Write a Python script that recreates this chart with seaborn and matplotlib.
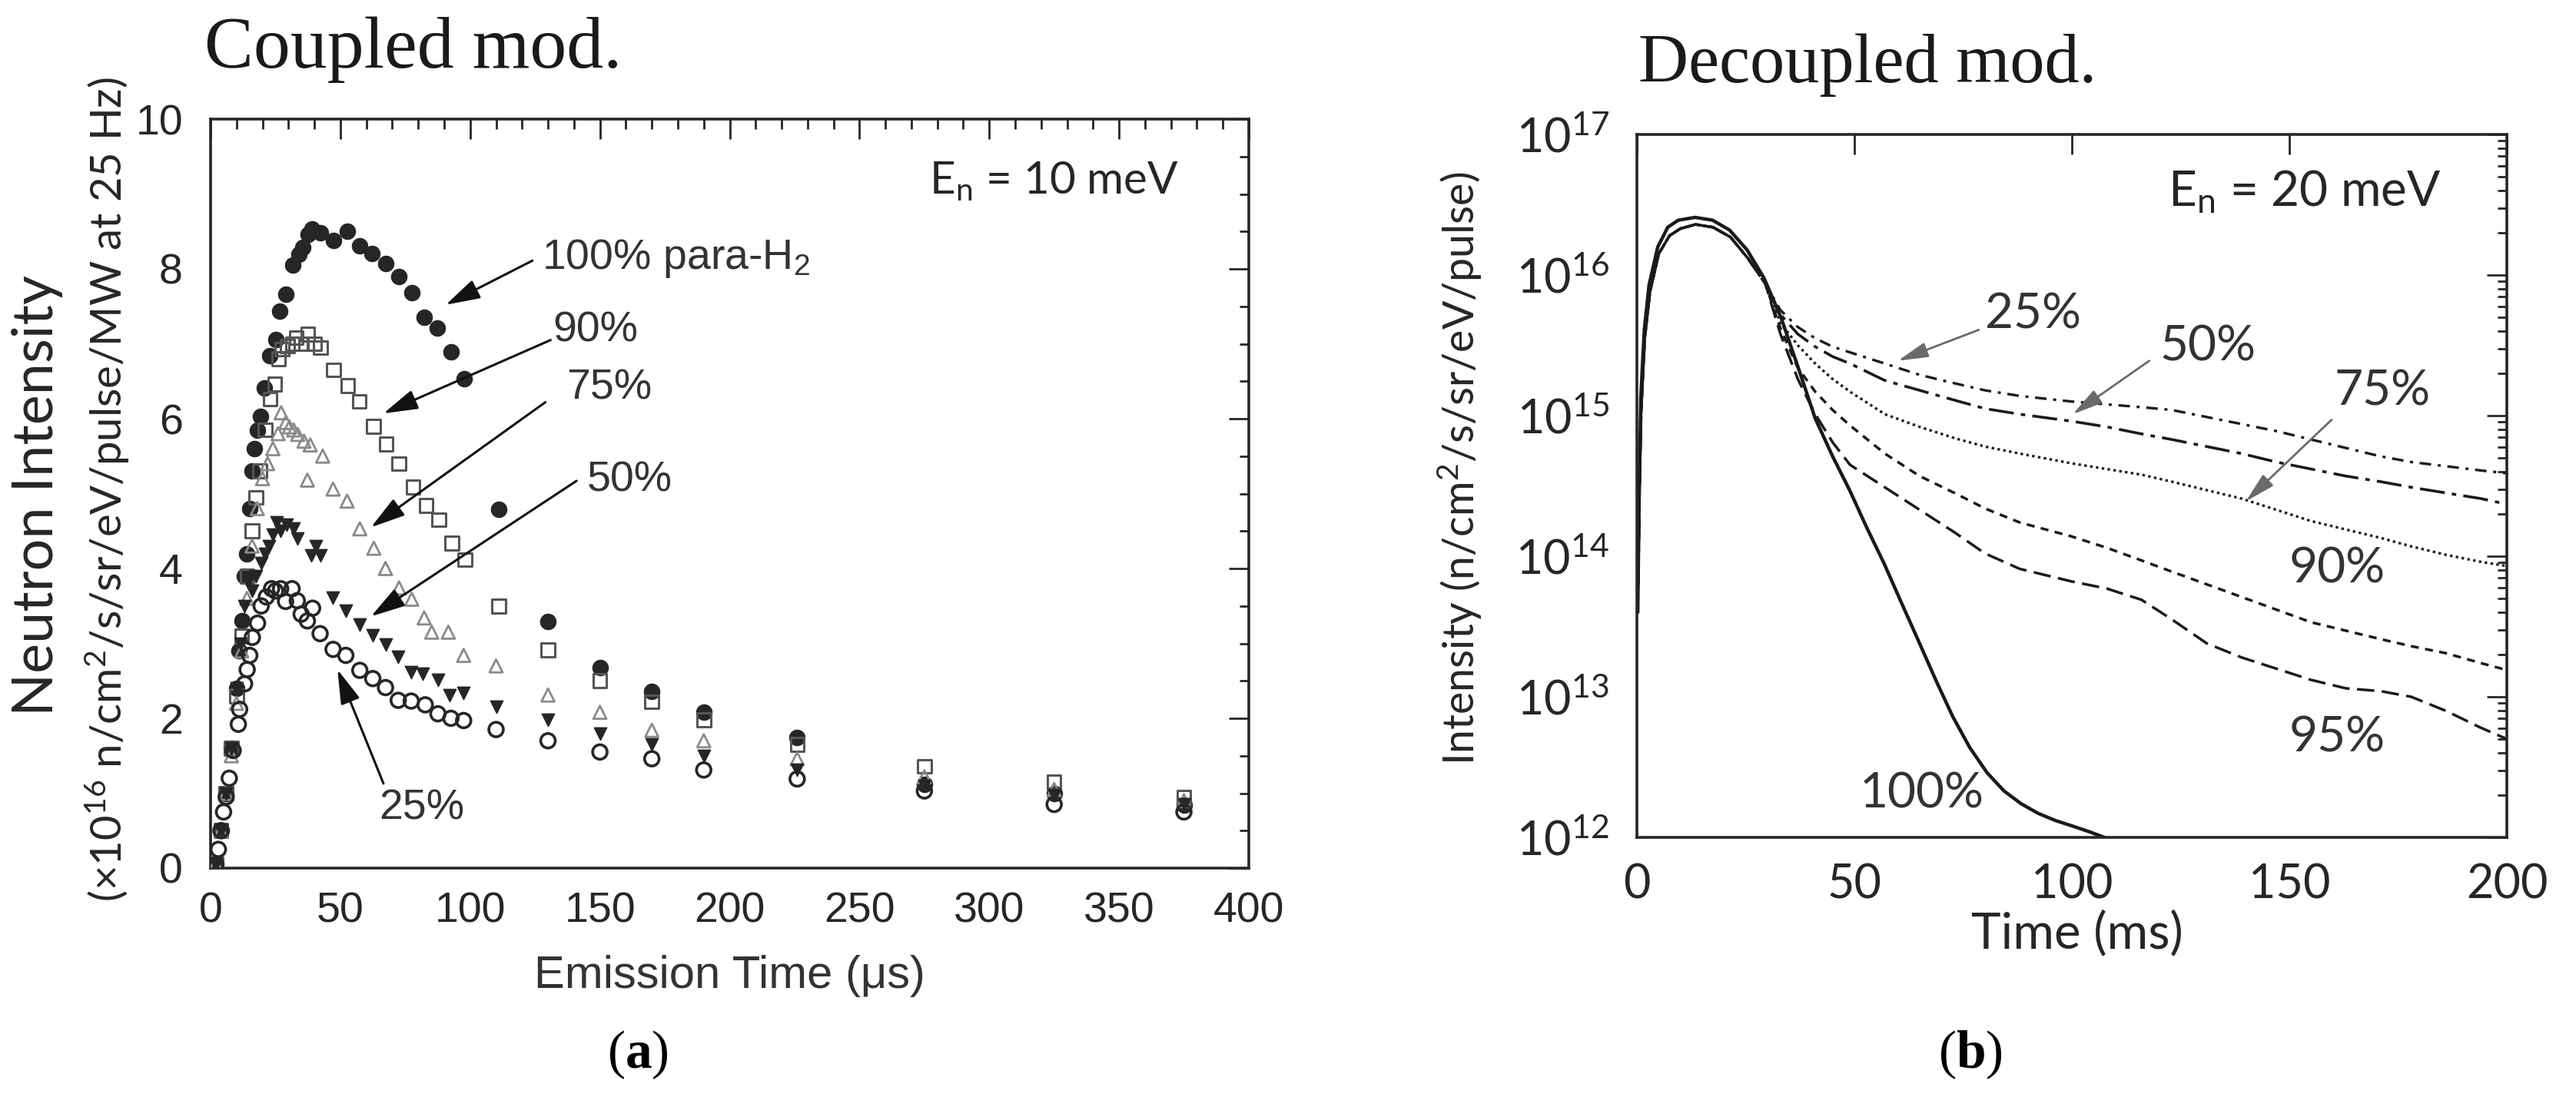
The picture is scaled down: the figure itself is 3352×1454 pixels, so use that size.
import numpy as np
import pandas as pd
import matplotlib.pyplot as plt
import seaborn as sns
from matplotlib.ticker import MultipleLocator, LogLocator, LogFormatterMathtext, NullFormatter

sns.set_style("white")
plt.rcParams["font.family"] = ["Liberation Sans", "DejaVu Sans"]
plt.rcParams["mathtext.fontset"] = "custom"
plt.rcParams["mathtext.bf"] = "Liberation Serif:bold"
plt.rcParams["mathtext.default"] = "regular"

# ---------------- (a) coupled moderator, En = 10 meV ----------------
# emission time (us) and intensity (x1e16 n/cm2/s/sr/eV/pulse/MW at 25 Hz)
t_100 = [2, 4, 6, 8, 10, 11, 12, 13, 14, 15, 16, 17, 18, 19.2, 20.7, 22.7, 25.2, 26.7, 29.1,
         31.6, 34, 35.5, 37.5, 39, 42.4, 47.4, 52.8, 57.3, 62.2, 67.6, 72.6, 77.5, 82.4, 87.4,
         92.8, 97.7, 111, 130, 150, 170, 190, 226, 275, 325, 375]
i_100 = [0.05, 0.5, 1.0, 1.6, 2.4, 2.9, 3.3, 3.9, 4.2, 4.8, 5.3, 5.6, 5.85, 6.03, 6.41, 6.84,
         7.06, 7.44, 7.66, 8.05, 8.19, 8.29, 8.46, 8.53, 8.48, 8.38, 8.5, 8.31, 8.21, 8.07, 7.9,
         7.68, 7.35, 7.21, 6.89, 6.53, 4.79, 3.29, 2.68, 2.36, 2.08, 1.74, 1.12, 0.99, 0.84]

t_90 = [2, 4, 6, 8, 10, 12, 14, 16, 17.5, 19, 21, 23, 24.7, 26.2, 27.5, 29.6, 31.5, 33, 35,
        37.5, 40, 42.4, 47.4, 52.8, 57.3, 62.7, 67.6, 72.6, 78, 83, 88, 93, 98, 111, 130, 150,
        170, 190, 226, 275, 325, 375]
i_90 = [0.05, 0.5, 1.0, 1.6, 2.3, 3.1, 3.9, 4.5, 4.95, 5.3, 5.85, 6.26, 6.46, 6.8, 6.93, 6.97,
        7.0, 7.08, 7.0, 7.13, 7.0, 6.95, 6.65, 6.44, 6.23, 5.9, 5.66, 5.4, 5.09, 4.84, 4.65,
        4.34, 4.12, 3.5, 2.91, 2.5, 2.22, 1.98, 1.65, 1.36, 1.15, 0.95]

t_75 = [2, 4, 6, 8, 10, 12, 14, 16, 18, 20, 22, 24, 26, 27.2, 29, 30.4, 32, 33.6, 36, 37.3,
        38.4, 43.2, 47.2, 52.6, 57.5, 62.9, 67.4, 72.6, 77.5, 82.3, 85.2, 91.6, 97.5, 110,
        130, 150, 170, 190, 226, 275, 325, 375]
i_75 = [0.05, 0.5, 1.0, 1.5, 2.2, 2.9, 3.6, 4.3, 4.8, 5.2, 5.4, 5.6, 5.8, 6.08, 5.95, 5.89,
        5.85, 5.79, 5.7, 5.18, 5.65, 5.5, 5.06, 4.9, 4.53, 4.27, 4.0, 3.74, 3.59, 3.34, 3.15,
        3.15, 2.84, 2.7, 2.31, 2.08, 1.84, 1.7, 1.46, 1.22, 1.05, 0.9]

t_50 = [2, 4, 6, 8, 10, 11.6, 13, 14.6, 16, 17.5, 19.5, 21, 22.5, 24, 25.5, 27, 29.4, 31.9,
        33.5, 38.9, 40.5, 42.2, 47.2, 52.1, 57.5, 62.5, 67.4, 72.3, 77.3, 81.7, 87.6, 92, 97.5,
        110, 130, 150, 170, 190, 226, 275, 325, 375]
i_50 = [0.05, 0.5, 1.0, 1.6, 2.4, 3.0, 3.5, 3.83, 3.7, 3.9, 4.07, 4.2, 4.3, 4.45, 4.62, 4.5,
        4.58, 4.53, 4.4, 4.17, 4.3, 4.17, 3.61, 3.44, 3.25, 3.11, 2.98, 2.82, 2.62, 2.6, 2.51,
        2.31, 2.34, 2.15, 1.98, 1.79, 1.65, 1.5, 1.31, 1.1, 0.97, 0.85]

t_25 = [2, 3, 4, 5, 6, 7.2, 8.7, 10.7, 11.2, 13.1, 14.1, 15.1, 16.1, 18.1, 19.5, 21.5, 23.5,
        25, 27, 28.9, 31.4, 33.4, 34.9, 37.3, 39.3, 42.2, 47.2, 52.1, 57.5, 62.5, 67.4, 72.3,
        77.3, 82.7, 87.6, 92.6, 97.5, 110, 130, 150, 170, 190, 226, 275, 325, 375]
i_25 = [0.05, 0.25, 0.5, 0.75, 0.95, 1.2, 1.57, 1.92, 2.12, 2.46, 2.65, 2.84, 3.08, 3.27, 3.5,
        3.62, 3.73, 3.7, 3.73, 3.56, 3.73, 3.57, 3.39, 3.3, 3.47, 3.13, 2.92, 2.84, 2.64, 2.53,
        2.41, 2.24, 2.23, 2.18, 2.06, 2.0, 1.97, 1.85, 1.7, 1.55, 1.46, 1.31, 1.19, 1.03, 0.85,
        0.75]

# ---------------- (b) decoupled moderator, En = 20 meV ----------------
# time (ms) and log10 of intensity (n/cm2/s/sr/eV/pulse)
t_b100 = [0.2, 0.5, 0.9, 1.7, 2.8, 4.8, 7.1, 9.5, 13.4, 17.4, 21.3, 25.3, 29.2, 33.1, 37.1,
          41, 45, 48.9, 52.9, 56.8, 60.8, 64.7, 68.7, 72.6, 76.5, 80.5, 84.4, 88.3, 92.3,
          96.2, 100.2, 104, 107.5]
log_b100 = [13.6, 14.4, 15.13, 15.61, 15.93, 16.2, 16.34, 16.39, 16.41, 16.39, 16.32, 16.18,
            15.98, 15.70, 15.34, 14.98, 14.71, 14.47, 14.2, 13.95, 13.67, 13.4, 13.12, 12.86,
            12.64, 12.46, 12.33, 12.24, 12.17, 12.12, 12.08, 12.04, 12.0]

t_b = [0.3, 0.6, 1.0, 1.8, 3.0, 5.0, 7.5, 10, 13.5, 17.5, 21.5, 25.5, 29.5, 33, 37, 41, 45,
       49, 57, 65, 73, 80, 88, 100, 108, 116, 123, 131, 139, 147, 155, 163, 171, 178, 186,
       194, 200]
rise_b = [13.8, 14.5, 15.05, 15.55, 15.88, 16.15, 16.28, 16.33, 16.36, 16.34, 16.27, 16.12, 15.94]
log_b25 = rise_b + [15.75, 15.63, 15.55, 15.49, 15.45, 15.37, 15.29, 15.23, 15.18, 15.14,
                    15.10, 15.08, 15.06, 15.04, 14.99, 14.94, 14.89, 14.83, 14.77, 14.71,
                    14.67, 14.64, 14.61, 14.59]
log_b50 = rise_b + [15.72, 15.58, 15.49, 15.42, 15.37, 15.25, 15.18, 15.11, 15.05, 15.01,
                    14.96, 14.92, 14.87, 14.83, 14.78, 14.73, 14.67, 14.62, 14.57, 14.53,
                    14.49, 14.45, 14.41, 14.37]
log_b75 = rise_b + [15.66, 15.50, 15.37, 15.26, 15.17, 15.01, 14.92, 14.84, 14.78, 14.73,
                    14.66, 14.62, 14.58, 14.53, 14.47, 14.41, 14.33, 14.25, 14.19, 14.13,
                    14.07, 14.01, 13.96, 13.93]
log_b90 = rise_b + [15.62, 15.34, 15.17, 15.04, 14.93, 14.73, 14.57, 14.45, 14.34, 14.24,
                    14.14, 14.06, 13.97, 13.89, 13.80, 13.71, 13.62, 13.53, 13.47, 13.41,
                    13.36, 13.31, 13.24, 13.19]
log_b95 = rise_b + [15.58, 15.26, 15.01, 14.81, 14.65, 14.49, 14.33, 14.17, 14.02, 13.91,
                    13.82, 13.77, 13.69, 13.55, 13.38, 13.28, 13.2, 13.12, 13.06, 13.04,
                    13.0, 12.9, 12.78, 12.7]

W, H = 3352, 1454
fig = plt.figure(figsize=(W / 100, H / 100), dpi=100)


def box(l, t, r, b):
    return [l / W, 1 - b / H, (r - l) / W, (b - t) / H]


ink = "#262626"
myriad = ["Lato", "DejaVu Sans"]

# ---------------- panel (a) ----------------
ax1 = fig.add_axes(box(274, 155, 1625, 1130))
series_a = [
    (t_100, i_100, "o", 210, ink, ink, 1.0),
    (t_90, i_90, "s", 160, "none", "#555555", 2.2),
    (t_75, i_75, "^", 150, "none", "#8a8a8a", 2.0),
    (t_50, i_50, "v", 140, ink, ink, 1.0),
    (t_25, i_25, "o", 185, "none", ink, 2.6),
]
for tt, ii, mk, sz, fc, ec, lw in series_a:
    df = pd.DataFrame({"t": tt, "i": ii})
    sns.scatterplot(data=df, x="t", y="i", ax=ax1, marker=mk, s=sz, color=fc,
                    edgecolor=ec, linewidth=lw, zorder=3)

ax1.set_xlim(0, 400)
ax1.set_ylim(0, 10)
ax1.xaxis.set_major_locator(MultipleLocator(50))
ax1.xaxis.set_minor_locator(MultipleLocator(10))
ax1.yaxis.set_major_locator(MultipleLocator(2))
ax1.yaxis.set_minor_locator(MultipleLocator(0.5))
ax1.tick_params(which="both", direction="in", top=True, right=True, colors=ink,
                labelsize=40, width=2.0)
ax1.tick_params(which="major", length=19)
ax1.tick_params(which="minor", length=9)
ax1.tick_params(axis="x", pad=22)
ax1.tick_params(axis="y", pad=26)
for s in ax1.spines.values():
    s.set_linewidth(2.6)
    s.set_color(ink)
ax1.set_xlabel("Emission Time (μs)", fontsize=43, color="#333333", va="center")
ax1.xaxis.set_label_coords(0.4996, -0.1446)
ax1.set_ylabel("")

fig.text(49 / W, 1 - 645 / H, "Neutron Intensity", rotation=90, ha="center", va="center",
         fontsize=53, color=ink, family=myriad)
fig.text(140 / W, 1 - 637 / H, "(×10$^{16}$ n/cm$^{2}$/s/sr/eV/pulse/MW at 25 Hz)",
         rotation=90, ha="center", va="center", fontsize=40.5, color=ink, family=myriad)

ax1.text(0.692, 0.917, "E$_{n}$ = 10 meV", transform=ax1.transAxes, fontsize=42,
         color=ink, family=myriad, va="center")

arrow_a = dict(arrowstyle="-|>,head_length=0.55,head_width=0.16", color="#111111",
               lw=2.2, mutation_scale=50, shrinkA=0, shrinkB=0)
labels_a = [
    ("100% para-H$_{2}$", (127.6, 8.14), (124, 8.11), (90.6, 7.52)),
    ("90%", (132, 7.17), (131, 7.05), (66.6, 6.07)),
    ("75%", (137, 6.4), (129, 6.22), (61.8, 4.55)),
    ("50%", (145, 5.17), (141, 5.17), (61.8, 3.36)),
    ("25%", (65, 0.79), (66.6, 1.13), (48.9, 2.65)),
]
for txt, pos, tail, tip in labels_a:
    ax1.text(pos[0], pos[1], txt, fontsize=40, color="#333333", va="center", ha="left")
    ax1.annotate("", xy=tip, xytext=tail, arrowprops=arrow_a)

# ---------------- panel (b) ----------------
ax2 = fig.add_axes(box(2130, 175, 3262, 1090))
series_b = [
    (t_b100, log_b100, (None, None), 3.2),
    (t_b, log_b25, (4.5, 2.6, 1.2, 2.6), 2.4),
    (t_b, log_b50, (9, 2.6, 1.6, 2.6), 2.6),
    (t_b, log_b75, (1.0, 1.3), 2.4),
    (t_b, log_b90, (3.0, 2.4), 2.5),
    (t_b, log_b95, (6.5, 2.8), 2.5),
]
for tt, lg, dash, lw in series_b:
    df = pd.DataFrame({"t": tt, "I": 10.0 ** np.array(lg)})
    sns.lineplot(data=df, x="t", y="I", ax=ax2, color="#1a1a1a", lw=lw, estimator=None)
    if dash[0] is not None:
        ax2.lines[-1].set_dashes(dash)

ax2.set_yscale("log")
ax2.set_xlim(0, 200)
ax2.set_ylim(1e12, 1e17)
ax2.xaxis.set_major_locator(MultipleLocator(50))
ax2.yaxis.set_major_locator(LogLocator(base=10, numticks=10))
ax2.yaxis.set_minor_locator(LogLocator(base=10, subs=np.arange(2, 10), numticks=10))
ax2.yaxis.set_major_formatter(LogFormatterMathtext())
ax2.yaxis.set_minor_formatter(NullFormatter())
ax2.tick_params(which="both", direction="in", top=True, right=True, colors=ink,
                labelsize=44, width=2.0)
ax2.tick_params(which="major", length=19)
ax2.tick_params(which="minor", length=9)
ax2.tick_params(axis="x", pad=24)
ax2.tick_params(axis="y", pad=26)
for lab in ax2.get_xticklabels() + ax2.get_yticklabels():
    lab.set_family(myriad)
for s in ax2.spines.values():
    s.set_linewidth(2.6)
    s.set_color(ink)
ax2.set_xlabel("Time (ms)", fontsize=47, color=ink, va="center", family=myriad)
ax2.xaxis.set_label_coords(0.506, -0.1366)
ax2.set_ylabel("")
fig.text(1900 / W, 1 - 610 / H, "Intensity (n/cm$^{2}$/s/sr/eV/pulse)", rotation=90,
         ha="center", va="center", fontsize=40, color=ink, family=myriad)

ax2.text(122, 10 ** 16.59, "E$_{n}$ = 20 meV", fontsize=46, color=ink, family=myriad,
         va="center")

arrow_b = dict(arrowstyle="-|>,head_length=0.6,head_width=0.15", color="#6a6a6a",
               lw=2.0, mutation_scale=40, shrinkA=0, shrinkB=0)
labels_b = [
    ("25%", (80, 15.72), (78.6, 15.61), (60, 15.39)),
    ("50%", (120.3, 15.49), (117.8, 15.39), (100.2, 15.01)),
    ("75%", (160.4, 15.17), (159.7, 14.97), (140, 14.39)),
]
for txt, pos, tail, tip in labels_b:
    ax2.text(pos[0], 10 ** pos[1], txt, fontsize=46, color="#333333", va="center",
             family=myriad)
    ax2.annotate("", xy=(tip[0], 10 ** tip[1]), xytext=(tail[0], 10 ** tail[1]),
                 arrowprops=arrow_b)
for txt, x, lg in [("90%", 150, 13.91), ("95%", 150, 12.71), ("100%", 51.2, 12.31)]:
    ax2.text(x, 10 ** lg, txt, fontsize=46, color="#333333", va="center", family=myriad)

# ---------------- titles and panel letters ----------------
serif = ["Liberation Serif", "DejaVu Serif"]
fig.text(266 / W, 1 - 88 / H, "Coupled mod.", fontsize=69, va="baseline",
         family=serif, color="#1a1a1a")
fig.text(2132 / W, 1 - 107 / H, "Decoupled mod.", fontsize=65, va="baseline",
         family=serif, color="#1a1a1a")
fig.text(830 / W, 1 - 1373 / H, "($\\mathbf{a}$)", fontsize=50, ha="center", va="center",
         family=serif, color="black")
fig.text(2564 / W, 1 - 1373 / H, "($\\mathbf{b}$)", fontsize=50, ha="center", va="center",
         family=serif, color="black")

fig.savefig("out.png", dpi=100, facecolor="white")
